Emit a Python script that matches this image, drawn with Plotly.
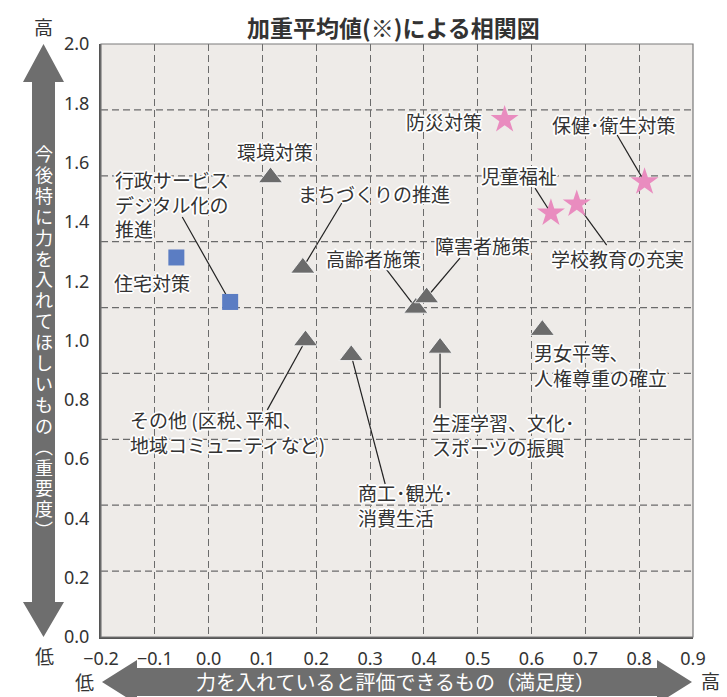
import plotly.graph_objects as go

FONT = "Noto Sans CJK JP, Noto Sans, sans-serif"
TXT = "#333333"

# ---------------- data ----------------
sq_names = ["住宅対策", "行政サービスデジタル化の推進"]
sq_x = [-0.06, 0.04]
sq_y = [1.28, 1.13]

tri_names = ["環境対策", "まちづくりの推進", "高齢者施策", "障害者施策",
             "その他（区税、平和、地域コミュニティなど）", "商工・観光・消費生活",
             "生涯学習、文化・スポーツの振興", "男女平等、人権尊重の確立"]
tri_x = [0.115, 0.175, 0.385, 0.405, 0.18, 0.265, 0.43, 0.62]
tri_y = [1.55, 1.245, 1.11, 1.145, 1.00, 0.95, 0.975, 1.035]

star_names = ["防災対策", "保健・衛生対策", "児童福祉", "学校教育の充実"]
star_x = [0.55, 0.81, 0.636, 0.684]
star_y = [1.745, 1.535, 1.43, 1.46]

x_ticks = [-0.2, -0.1, 0.0, 0.1, 0.2, 0.3, 0.4, 0.5, 0.6, 0.7, 0.8, 0.9]
y_ticks = [0.0, 0.2, 0.4, 0.6, 0.8, 1.0, 1.2, 1.4, 1.6, 1.8, 2.0]
x_range = [-0.2, 0.9]
y_range = [0.0, 2.0]
y_grid_divisions = 9

title_text = "加重平均値(※)による相関図"
y_title = "今後特に力を入れてほしいもの︵重要度︶"
x_title = "力を入れていると評価できるもの（満足度）"

# labels: text, x, y, anchor
labels = [
    ("環境対策", 0.124, 1.636, "center"),
    ("行政サービス<br>デジタル化の<br>推進", -0.177, 1.46, "left"),
    ("住宅対策", -0.105, 1.194, "center"),
    ("まちづくりの推進", 0.308, 1.497, "center"),
    ("高齢者施策", 0.307, 1.275, "center"),
    ("障害者施策", 0.509, 1.322, "center"),
    ("防災対策", 0.4375, 1.740, "center"),
    ("保健･衛生対策", 0.7535, 1.730, "center"),
    ("児童福祉", 0.577, 1.558, "center"),
    ("学校教育の充実", 0.760, 1.278, "center"),
    ("男女平等､<br>人権尊重の確立", 0.601, 0.916, "left"),
    ("生涯学習、文化･<br>スポーツの振興", 0.4115, 0.680, "left"),
    ("商工･観光･<br>消費生活", 0.2745, 0.445, "left"),
    ("その他 (区税､平和､<br>地域コミュニティなど)", -0.149, 0.690, "left"),
]

# leader lines: start (x, y) -> series, index of the point it points to
leaders = [
    (-0.049, 1.4165, "sq", 1),
    (0.2475, 1.4637, "tri", 1),
    (0.331, 1.238, "tri", 2),
    (0.467, 1.278, "tri", 3),
    (0.759, 1.693, "star", 1),
    (0.6065, 1.514, "star", 2),
    (0.7396, 1.322, "star", 3),
    (0.43, 0.772, "tri", 6),
    (0.328, 0.516, "tri", 5),
    (0.109, 0.766, "tri", 4),
]
series_xy = {"sq": (sq_x, sq_y), "tri": (tri_x, tri_y), "star": (star_x, star_y)}

# ---------------- layout geometry (pixels) ----------------
W_FIG, H_FIG = 727, 697
L, R, T, B = 101, 693, 44, 637


def pxx(p):
    return (p - L) / (R - L)


def pxy(p):
    return (B - p) / (B - T)


fig = go.Figure()

fig.add_trace(go.Scatter(
    x=tri_x, y=tri_y, mode="markers", text=tri_names, hoverinfo="text",
    marker=dict(symbol="triangle-up", size=21, color="#6b6b6b",
                line=dict(color="white", width=0.8))))
fig.add_trace(go.Scatter(
    x=sq_x, y=sq_y, mode="markers", text=sq_names, hoverinfo="text",
    marker=dict(symbol="square", size=16, color="#5b7dc3")))
fig.add_trace(go.Scatter(
    x=star_x, y=star_y, mode="markers", text=star_names, hoverinfo="text",
    marker=dict(symbol="star", size=21, color="#e98cbf")))

shapes = []
# horizontal dashed grid (9 equal divisions)
for k in range(1, y_grid_divisions):
    yv = y_range[0] + (y_range[1] - y_range[0]) * k / y_grid_divisions
    shapes.append(dict(type="line", xref="paper", yref="y", x0=0, x1=1, y0=yv, y1=yv,
                       line=dict(color="#6b6b6b", width=1.3, dash="7px,4px"), layer="below"))
# leader lines
for sx, sy, ser, idx in leaders:
    xs, ys = series_xy[ser]
    shapes.append(dict(type="line", xref="x", yref="y", x0=sx, y0=sy, x1=xs[idx], y1=ys[idx],
                       line=dict(color="#222222", width=1.2), layer="below"))
# border top/right
shapes.append(dict(type="rect", xref="paper", yref="paper", x0=0, x1=1, y0=0, y1=1,
                   line=dict(color="#7a7a7a", width=1.2), layer="above"))


def path(points):
    return "M " + " L ".join(f"{pxx(a):.5f},{pxy(b):.5f}" for a, b in points) + " Z"


ARROW = "#6e6e6e"
v_pts = [(43.5, 44), (64, 82), (55, 82), (55, 602), (64, 602), (43.5, 637),
         (23, 602), (32, 602), (32, 82), (23, 82)]
h_pts = [(102, 682), (137, 660), (137, 668), (657, 668), (657, 660), (692, 682),
         (657, 704), (657, 696), (137, 696), (137, 704)]
shapes.append(dict(type="path", xref="paper", yref="paper", path=path(v_pts),
                   fillcolor=ARROW, line=dict(width=0)))
shapes.append(dict(type="path", xref="paper", yref="paper", path=path(h_pts),
                   fillcolor=ARROW, line=dict(width=0)))

HALO = "1px 1px 0 #fff, -1px -1px 0 #fff, 1px -1px 0 #fff, -1px 1px 0 #fff, 2px 0 0 #fff, -2px 0 0 #fff, 0 2px 0 #fff, 0 -2px 0 #fff"

ann = []
for text, x, y, anc in labels:
    ann.append(dict(text=text, x=x, y=y, xref="x", yref="y", showarrow=False,
                    xanchor=anc, yanchor="middle", align="left",
                    font=dict(family=FONT, size=19, color=TXT, shadow=HALO)))

# title
ann.append(dict(text=title_text, x=pxx(393), y=pxy(27), xref="paper", yref="paper",
                showarrow=False, xanchor="center", yanchor="middle",
                font=dict(family=FONT, size=23, color=TXT, weight="bold")))
# vertical axis title, stacked characters
for i, ch in enumerate(y_title):
    ann.append(dict(text=ch, x=pxx(43.5), y=pxy(153 + 20.9 * i), xref="paper", yref="paper",
                    showarrow=False, xanchor="center", yanchor="middle", height=20,
                    font=dict(family=FONT, size=18, color="white")))
# horizontal axis title
ann.append(dict(text=x_title, x=pxx(395), y=pxy(681), xref="paper", yref="paper",
                showarrow=False, xanchor="center", yanchor="middle", height=24,
                font=dict(family=FONT, size=20, color="white")))
# 高 / 低 markers
for text, px_, py_ in [("高", 43, 26), ("低", 44, 655), ("低", 84, 681), ("高", 710, 680)]:
    ann.append(dict(text=text, x=pxx(px_), y=pxy(py_), xref="paper", yref="paper",
                    showarrow=False, xanchor="center", yanchor="middle",
                    font=dict(family=FONT, size=19, color=TXT)))

fig.update_layout(
    width=W_FIG, height=H_FIG,
    margin=dict(l=L, r=W_FIG - R, t=T, b=H_FIG - B, pad=0),
    paper_bgcolor="white", plot_bgcolor="#eeebe8",
    showlegend=False,
    shapes=shapes, annotations=ann,
    xaxis=dict(range=x_range, tickvals=x_ticks, ticktext=[f"{v:.1f}".replace("-", "−") for v in x_ticks],
               showgrid=True, gridcolor="#6b6b6b", gridwidth=1.3, griddash="7px,4px",
               zeroline=False, showline=True, linecolor="#555555", linewidth=2,
               ticks="outside", ticklen=4, tickcolor="rgba(0,0,0,0)",
               tickfont=dict(family="Noto Sans, sans-serif", size=18, color=TXT)),
    yaxis=dict(range=y_range, tickvals=y_ticks, ticktext=[f"{v:.1f}" for v in y_ticks],
               showgrid=False, zeroline=False, showline=True, linecolor="#555555", linewidth=2,
               ticks="outside", ticklen=6, tickcolor="rgba(0,0,0,0)",
               tickfont=dict(family="Noto Sans, sans-serif", size=18, color=TXT)),
)

fig.write_html("out.html", config={"displayModeBar": False},
               post_script="document.body.style.margin='0';document.body.style.overflow='hidden';")
